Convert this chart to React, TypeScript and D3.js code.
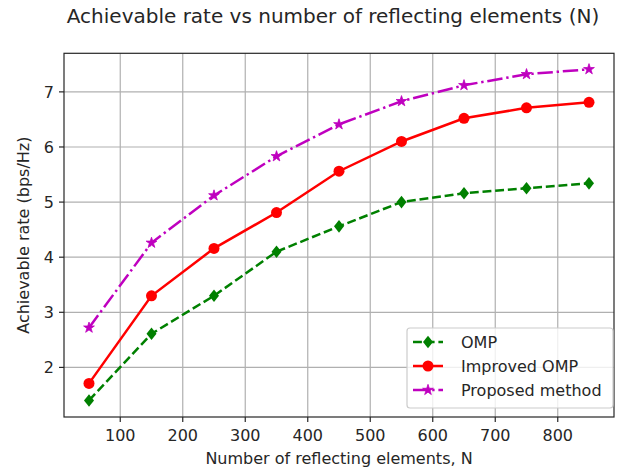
import React from "react";
import * as d3 from "d3";

const nValues = [50, 150, 250, 350, 450, 550, 650, 750, 850];
const ompRate = [1.4, 2.61, 3.3, 4.1, 4.56, 5.0, 5.16, 5.25, 5.34];
const improvedRate = [1.71, 3.3, 4.16, 4.81, 5.56, 6.1, 6.52, 6.71, 6.81];
const proposedRate = [2.72, 4.26, 5.12, 5.83, 6.41, 6.83, 7.12, 7.32, 7.41];
const xTicks = [100, 200, 300, 400, 500, 600, 700, 800];
const yTicks = [2, 3, 4, 5, 6, 7];

const W = 627, H = 472;
const L = 64, R = 614, T = 53.3, B = 417;
const FONT = "DejaVu Sans";
const FS = 16;

type Series = { name: string; values: number[]; color: string; dash: string; marker: "d" | "o" | "*" };
const series: Series[] = [
  { name: "OMP", values: ompRate, color: "#008000", dash: "8.9,3.8", marker: "d" },
  { name: "Improved OMP", values: improvedRate, color: "#ff0000", dash: "", marker: "o" },
  { name: "Proposed method", values: proposedRate, color: "#bf00bf", dash: "15.4,3.8,2.4,3.8", marker: "*" },
];

function Marker({ kind, x, y, color }: { kind: string; x: number; y: number; color: string }) {
  if (kind === "o") return <circle cx={x} cy={y} r={5.5} fill={color} />;
  if (kind === "d") {
    const hw = 5, hh = 6.3;
    return <path d={`M${x},${y - hh}L${x + hw},${y}L${x},${y + hh}L${x - hw},${y}Z`} fill={color} />;
  }
  const star = d3.symbol().type(d3.symbolStar).size(36)();
  return <path d={star || ""} transform={`translate(${x},${y})`} fill={color} stroke={color} strokeWidth={0.8} />;
}

export default function App() {
  const x = d3.scaleLinear().domain([10, 890]).range([L, R]);
  const y = d3.scaleLinear().domain([1.1, 7.7]).range([B, T]);
  const line = d3.line<number>().x((_, i) => x(nValues[i])).y((d) => y(d));

  const legX = 407, legY = 328, legW = 206, legH = 80;
  const rowY = [342, 366, 390];

  return (
    <svg width={W} height={H} style={{ display: "block", position: "absolute", left: 0, top: 0 }} fontFamily={FONT}>
      <rect width={W} height={H} fill="#fff" />
      {xTicks.map((t) => (
        <line key={"gx" + t} x1={x(t)} x2={x(t)} y1={T} y2={B} stroke="#b0b0b0" strokeWidth={1.2} />
      ))}
      {yTicks.map((t) => (
        <line key={"gy" + t} x1={L} x2={R} y1={y(t)} y2={y(t)} stroke="#b0b0b0" strokeWidth={1.2} />
      ))}
      {series.map((s) => (
        <g key={s.name}>
          <path d={line(s.values) || ""} fill="none" stroke={s.color} strokeWidth={2.5} strokeDasharray={s.dash} />
          {s.values.map((v, i) => (
            <Marker key={i} kind={s.marker} x={x(nValues[i])} y={y(v)} color={s.color} />
          ))}
        </g>
      ))}
      <rect x={L} y={T} width={R - L} height={B - T} fill="none" stroke="#262626" strokeWidth={1.2} />
      {xTicks.map((t) => (
        <g key={"xt" + t}>
          <line x1={x(t)} x2={x(t)} y1={B} y2={B + 5} stroke="#262626" strokeWidth={1.2} />
          <text x={x(t)} y={B + 24} textAnchor="middle" fontSize={FS} fill="#262626">{t}</text>
        </g>
      ))}
      {yTicks.map((t) => (
        <g key={"yt" + t}>
          <line x1={L - 5} x2={L} y1={y(t)} y2={y(t)} stroke="#262626" strokeWidth={1.2} />
          <text x={L - 10} y={y(t) + 5.8} textAnchor="end" fontSize={FS} fill="#262626">{t}</text>
        </g>
      ))}
      <text x={(L + R) / 2} y={464} textAnchor="middle" fontSize={FS} fill="#262626">Number of reflecting elements, N</text>
      <text transform={`translate(29,${(T + B) / 2}) rotate(-90)`} textAnchor="middle" fontSize={FS} fill="#262626">Achievable rate (bps/Hz)</text>
      <text x={333} y={23} textAnchor="middle" fontSize={20} fill="#262626">Achievable rate vs number of reflecting elements (N)</text>
      <rect x={legX} y={legY} width={legW} height={legH} rx={3} fill="#fff" fillOpacity={0.8} stroke="#cccccc" strokeWidth={1.2} />
      {series.map((s, i) => (
        <g key={"lg" + s.name}>
          <line x1={413} x2={443} y1={rowY[i]} y2={rowY[i]} stroke={s.color} strokeWidth={2.5} strokeDasharray={s.dash} />
          <Marker kind={s.marker} x={428} y={rowY[i]} color={s.color} />
          <text x={461} y={rowY[i] + 5.5} fontSize={FS} fill="#262626">{s.name}</text>
        </g>
      ))}
    </svg>
  );
}
